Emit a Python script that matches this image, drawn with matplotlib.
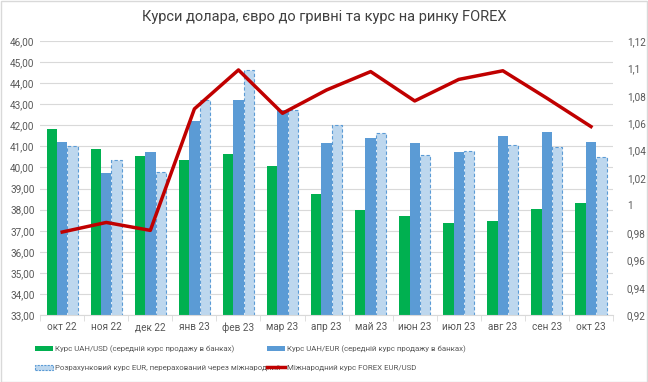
import matplotlib
matplotlib.use("Agg")
import matplotlib.pyplot as plt
import numpy as np
from matplotlib.patches import Patch
from matplotlib.lines import Line2D
from matplotlib.ticker import FuncFormatter, MultipleLocator, FixedLocator

plt.rcParams['font.family'] = ['Roboto', 'DejaVu Sans']
leg_family = ['Roboto', 'DejaVu Sans']
leg_size = 5.7

months = ["окт 22", "ноя 22", "дек 22", "янв 23", "фев 23", "мар 23", "апр 23",
          "май 23", "июн 23", "июл 23", "авг 23", "сен 23", "окт 23"]
uah_usd = [41.83, 40.89, 40.54, 40.35, 40.65, 40.07, 38.76, 37.97, 37.71, 37.36, 37.44, 38.03, 38.31]
uah_eur = [41.21, 39.75, 40.73, 42.22, 43.22, 42.73, 41.18, 41.41, 41.18, 40.73, 41.49, 41.70, 41.22]
calc_eur = [41.00, 40.35, 39.77, 43.20, 44.64, 42.70, 42.01, 41.64, 40.58, 40.76, 41.08, 40.99, 40.48]
forex = [0.9806, 0.9876, 0.9818, 1.0704, 1.0988, 1.0672, 1.0842, 1.0976, 1.0762, 1.0919, 1.0982, 1.0782, 1.0575]

labels = ["Курс UAH/USD (середній курс продажу в банках)",
          "Курс UAH/EUR (середній курс продажу в банках)",
          "Розрахунковий курс EUR, перерахований через міжнародний",
          "Міжнародний курс FOREX EUR/USD"]
title = "Курси долара, євро до гривні та курс на ринку FOREX"

green = "#00B050"
blue = "#5B9BD5"
light = "#BDD7EE"
red = "#C00000"
txt = "#595959"

fig = plt.figure(figsize=(6.48, 3.82), dpi=100)
ax = fig.add_axes([0.062, 0.175, 0.884, 0.718])
x = np.arange(len(months))
w = 0.235
ax.bar(x - w, uah_usd, w, color=green, zorder=2)
ax.bar(x, uah_eur, w, color=blue, zorder=2)
ax.bar(x + w, calc_eur, w, color=light, edgecolor=blue, linestyle=(0, (3, 2)), linewidth=0.8, zorder=2)
ax.set_ylim(33, 46)
ax.yaxis.set_major_locator(MultipleLocator(1))
ax.yaxis.set_major_formatter(FuncFormatter(lambda v, p: f"{v:.2f}".replace(".", ",")))
ax.set_xlim(-0.5, len(months) - 0.5)
ax.set_xticks(x)
ax.set_xticklabels(months)
ax.xaxis.set_minor_locator(FixedLocator(np.arange(-0.5, len(months), 1)))
ax.tick_params(axis='x', which='major', length=0, labelsize=7.2, labelcolor=txt, pad=5)
ax.tick_params(axis='x', which='minor', length=4, color="#D9D9D9")
ax.tick_params(axis='y', length=0, labelsize=7.2, labelcolor=txt, pad=4)
ax.grid(axis='y', color="#D9D9D9", linewidth=0.8, zorder=0)
ax.set_axisbelow(True)
for s in ['top', 'right', 'left']:
    ax.spines[s].set_visible(False)
ax.spines['bottom'].set_color("#D9D9D9")

ax2 = ax.twinx()
ax2.plot(x, forex, color=red, linewidth=2.5, zorder=3)
ax2.set_ylim(0.92, 1.12)
ax2.yaxis.set_major_locator(FixedLocator(np.round(np.arange(0.92, 1.1201, 0.02), 2)))
def rfmt(v, p):
    s = f"{v:.2f}".rstrip("0").rstrip(".")
    return s.replace(".", ",")
ax2.yaxis.set_major_formatter(FuncFormatter(rfmt))
ax2.tick_params(axis='y', length=0, labelsize=7.2, labelcolor=txt, pad=10)
for s in ax2.spines.values():
    s.set_visible(False)

fig.text(0.5, 0.955, title, ha='center', va='center', fontsize=10.5, color="#404040")

handles = [Patch(facecolor=green), Patch(facecolor=blue),
           Patch(facecolor=light, edgecolor=blue, linestyle=(0, (2, 1)), linewidth=0.8),
           Line2D([0], [0], color=red, linewidth=2.5)]
positions = [(0.054, 0.086), (0.412, 0.086), (0.054, 0.037), (0.412, 0.037)]
for h, l, pos in zip(handles, labels, positions):
    lg = fig.legend([h], [l], loc='center left', bbox_to_anchor=pos, frameon=False,
                    prop={'family': leg_family, 'size': leg_size},
                    handlelength=18 / (leg_size * 100 / 72), handleheight=0.7, handletextpad=0.2,
                    borderpad=0, borderaxespad=0, labelcolor=txt)

fig.patches.append(plt.Rectangle((0.001, 0.001), 0.997, 0.997, transform=fig.transFigure,
                                 fill=False, edgecolor="#D9D9D9", linewidth=1))
fig.savefig("out.png", dpi=100)
